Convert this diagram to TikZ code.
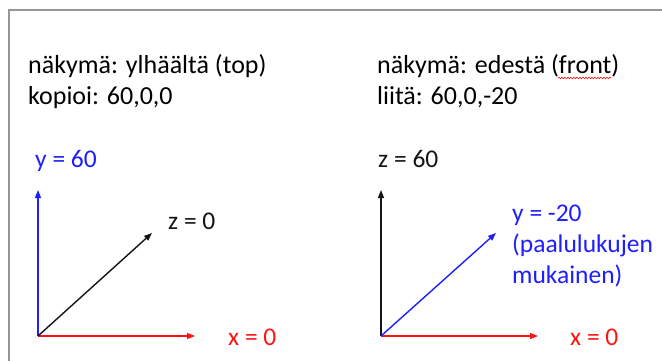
\documentclass[tikz,border=0pt]{standalone}
\usepackage{fontspec}
\setmainfont{Carlito}
\usetikzlibrary{arrows.meta,decorations.pathmorphing}
\definecolor{frame}{RGB}{150,150,150}
\definecolor{axblue}{RGB}{30,30,255}
\definecolor{axred}{RGB}{255,20,20}
\definecolor{axblack}{RGB}{20,20,20}
\tikzset{
  head/.style={font=\fontsize{26}{30}\selectfont, anchor=base west, inner sep=0pt},
  lbl/.style={font=\fontsize{25.5}{30}\selectfont, anchor=base west, inner sep=0pt},
  axis/.style={line width=1.4pt, -{Triangle[length=8pt,width=6pt]}},
}
\begin{document}
\begin{tikzpicture}[x=1pt,y=-1pt]
\useasboundingbox (0,0) rectangle (662,361);
\draw[frame, line width=1.6pt] (9,362) -- (9,10) -- (663,10);
% header texts
\node[head] (h1) at (28,74) {näkymä: ylhäältä (top)};
\node[head] (h2) at (28,104) {kopioi: 60,0,0};
\node[head] (h3) at (377,74) {näkymä: edestä (front)};
\node[head] (h4) at (377,104) {liitä: 60,0,-20};
\draw[axred, line width=0.6pt, decorate, decoration={snake, amplitude=0.8pt, segment length=3pt}] (558,78) -- (611,78);
% left axes
\coordinate (o1) at (38,336);
\coordinate (y1) at (38,190);
\coordinate (x1) at (195,336);
\coordinate (z1) at (152,233);
\draw[axis, axblue] (o1) -- (y1);
\draw[axis, axred] (o1) -- (x1);
\draw[axis, axblack] (o1) -- (z1);
\node[lbl, text=axblue] (ly1) at (35,167) {y = 60};
\node[lbl, text=axblack] (lz1) at (168,229) {z = 0};
\node[lbl, text=axred] (lx1) at (228,345) {x = 0};
% right axes
\coordinate (o2) at (381,336);
\coordinate (z2) at (381,190);
\coordinate (x2) at (538,336);
\coordinate (y2) at (496,233);
\draw[axis, axblack] (o2) -- (z2);
\draw[axis, axred] (o2) -- (x2);
\draw[axis, axblue] (o2) -- (y2);
\node[lbl, text=axblack] (lz2) at (378,167) {z = 60};
\node[lbl, text=axblue] (ly2a) at (512,221) {y = -20};
\node[lbl, text=axblue] (ly2b) at (512,252) {(paalulukujen};
\node[lbl, text=axblue] (ly2c) at (512,283) {mukainen)};
\node[lbl, text=axred] (lx2) at (570,345) {x = 0};
\end{tikzpicture}
\end{document}
